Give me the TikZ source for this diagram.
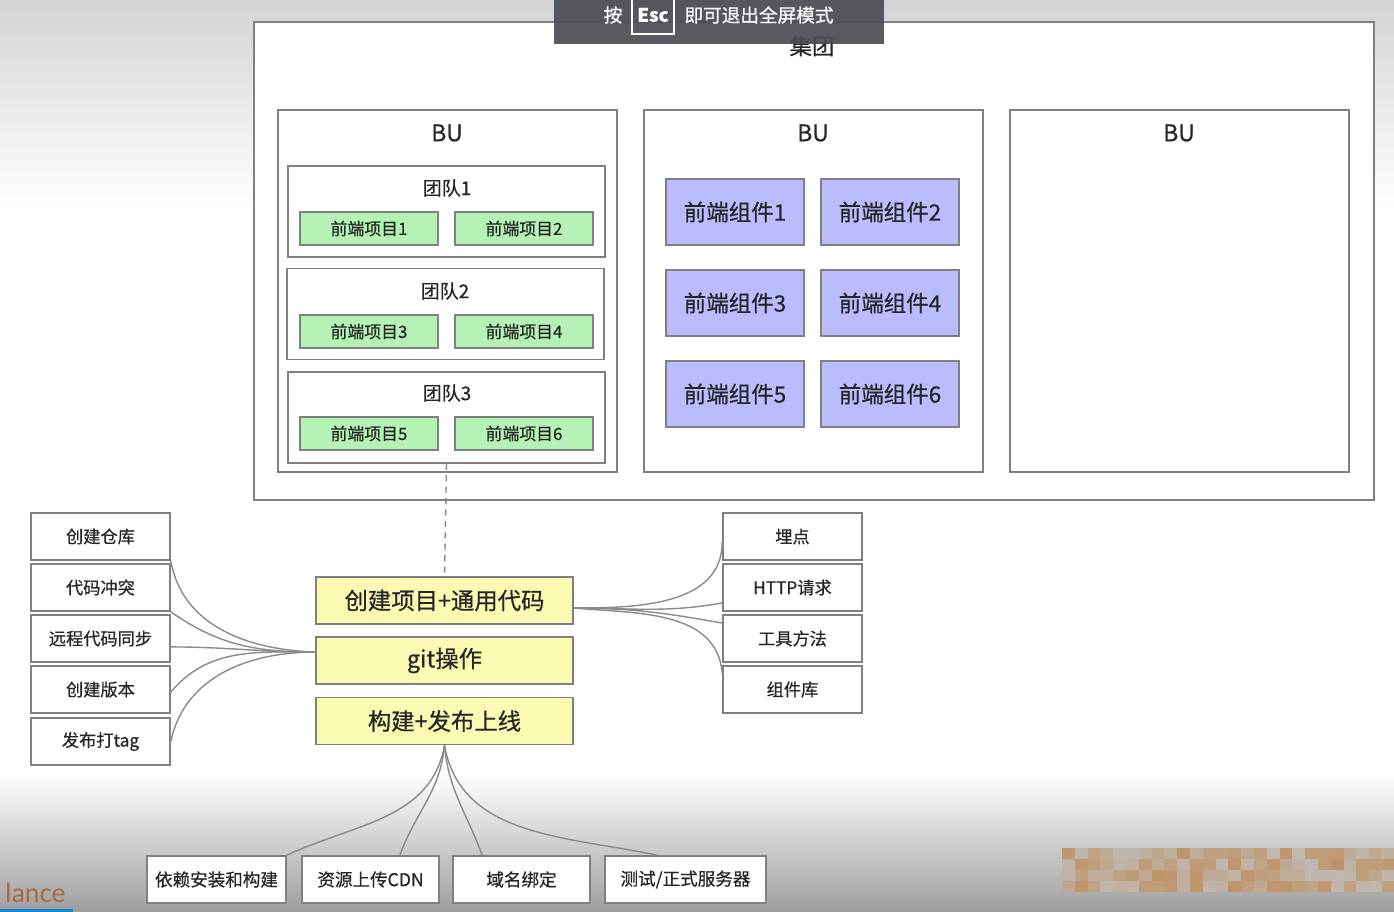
\documentclass[tikz,border=0pt]{standalone}
\usepackage{fontspec}
\setmainfont{Noto Sans CJK SC}[FakeBold=0.6]
\newfontfamily\latinfont{Carlito}
\definecolor{boxline}{HTML}{808080}
\definecolor{linkline}{HTML}{8A8A8A}
\definecolor{projgreen}{HTML}{B5F2B5}
\definecolor{comppurple}{HTML}{BBBBFF}
\definecolor{stageyellow}{HTML}{FAFAB2}
\definecolor{bannergray}{HTML}{4A4D52}
\definecolor{lanceorange}{HTML}{A86A45}
\newcommand{\fs}[1]{\fontsize{#1}{#1}\selectfont}

\begin{document}
\begin{tikzpicture}[x=0.02cm,y=-0.02cm,
    box/.style={draw=boxline,line width=0.9pt,inner sep=0pt,text=black!85},
    frame/.style={box,fill=white},
    proj/.style={box,fill=projgreen,minimum width=2.76cm,minimum height=0.66cm,font=\fs{9.6}},
    comp/.style={box,fill=comppurple,minimum width=2.76cm,minimum height=1.32cm,font=\fs{12.8}},
    stage/.style={box,fill=stageyellow,minimum width=5.14cm,minimum height=0.94cm,font=\fs{13.3}},
    item/.style={box,fill=white,minimum width=2.78cm,minimum height=0.94cm,font=\fs{9.8}},
    link/.style={draw=linkline,line width=0.8pt},
    title/.style={inner sep=0pt,text=black!85}]
    \useasboundingbox (0,0) rectangle (1394,912);
    % background of the screen
    \fill[white] (0,0) rectangle (1394,912);
    \shade[top color=black!17,bottom color=white] (0,0) rectangle (1394,210);
    \shade[top color=white,bottom color=black!38] (0,775) rectangle (1394,912);

    % group and business units
    \node[frame,minimum width=22.4cm,minimum height=9.56cm] (group) at (814,261) {};
    \node[title,font=\fs{12.8}] (grouplabel) at (812,46) {集团};
    \node[frame,minimum width=6.78cm,minimum height=7.24cm] (bu1) at (447.5,291) {};
    \node[frame,minimum width=6.78cm,minimum height=7.24cm] (bu2) at (813.5,291) {};
    \node[frame,minimum width=6.78cm,minimum height=7.24cm] (bu3) at (1179.5,291) {};
    \node[title,font=\fs{13}] (bulabel1) at (447,133) {BU};
    \node[title,font=\fs{13}] (bulabel2) at (813,133) {BU};
    \node[title,font=\fs{13}] (bulabel3) at (1179,133) {BU};

    % teams with their projects
    \node[frame,minimum width=6.34cm,minimum height=1.82cm] (team1) at (446.5,211.5) {};
    \node[frame,minimum width=6.34cm,minimum height=1.82cm] (team2) at (445.5,314) {};
    \node[frame,minimum width=6.34cm,minimum height=1.82cm] (team3) at (446.5,417.5) {};
    \node[title,font=\fs{10.8}] (teamlabel1) at (447,188) {团队1};
    \node[title,font=\fs{10.8}] (teamlabel2) at (445,291) {团队2};
    \node[title,font=\fs{10.8}] (teamlabel3) at (447,393) {团队3};
    \node[proj] (p1) at (369,228.5) {前端项目1};
    \node[proj] (p2) at (524,228.5) {前端项目2};
    \node[proj] (p3) at (369,331.5) {前端项目3};
    \node[proj] (p4) at (524,331.5) {前端项目4};
    \node[proj] (p5) at (369,433.5) {前端项目5};
    \node[proj] (p6) at (524,433.5) {前端项目6};

    % components
    \node[comp] (c1) at (735,212) {前端组件1};
    \node[comp] (c2) at (890,212) {前端组件2};
    \node[comp] (c3) at (735,303) {前端组件3};
    \node[comp] (c4) at (890,303) {前端组件4};
    \node[comp] (c5) at (735,394) {前端组件5};
    \node[comp] (c6) at (890,394) {前端组件6};

    % stages
    \node[stage] (create) at (444.5,600.5) {创建项目+通用代码};
    \node[stage] (git) at (444.5,660.5) {git操作};
    \node[stage] (deploy) at (444.5,721) {构建+发布上线};
    \draw[linkline,line width=0.8pt,dash pattern=on 3.5pt off 3pt] (team3.south) -- (create.north);

    % git side
    \node[item] (repo) at (100.5,536.5) {创建仓库};
    \node[item] (conflict) at (100.5,587.5) {代码冲突};
    \node[item] (sync) at (100.5,638.5) {远程代码同步};
    \node[item] (version) at (100.5,689.5) {创建版本};
    \node[item] (tag) at (100.5,741.5) {发布打tag};
    \draw[link] (repo.south east) to[out=-80,in=178] ([yshift=4.8pt]git.west);
    \draw[link] (conflict.south east) to[out=-35,in=180] ([yshift=4.8pt]git.west);
    \draw[link] ([yshift=-4.8pt]sync.east) to[out=0,in=180] ([yshift=4.8pt]git.west);
    \draw[link] ([yshift=-1.5pt]version.east) to[out=50,in=180] ([yshift=4.8pt]git.west);
    \draw[link] (tag.east) to[out=78,in=180] ([yshift=4.8pt]git.west);

    % common code side
    \node[item] (track) at (792.5,536.5) {埋点};
    \node[item] (http) at (792.5,587.5) {HTTP请求};
    \node[item] (tools) at (792.5,638.5) {工具方法};
    \node[item] (ui) at (792.5,689.5) {组件库};
    \draw[link] ([yshift=-4.3pt]create.east) to[out=0,in=-90] ([yshift=-3.1pt]track.west);
    \draw[link] ([yshift=-4.3pt]create.east) to[out=0,in=190] ([yshift=-8.8pt]http.west);
    \draw[link] ([yshift=-4.3pt]create.east) to[out=0,in=170] ([yshift=8.8pt]tools.west);
    \draw[link] ([yshift=-4.3pt]create.east) to[out=-5,in=95] ([yshift=9.4pt]ui.west);

    % build and release
    \node[item,font=\fs{10}] (install) at (216.5,879.5) {依赖安装和构建};
    \node[item,font=\fs{10},minimum width=2.74cm] (cdn) at (370.5,879.5) {资源上传CDN};
    \node[item,font=\fs{10},minimum width=2.74cm] (domain) at (521.5,879.5) {域名绑定};
    \node[item,font=\fs{10},minimum width=3.22cm] (server) at (685.5,879.5) {测试/正式服务器};
    \draw[link] (deploy.south) to[out=-100,in=25] (install.north east);
    \draw[link] (deploy.south) to[out=-95,in=70] ([xshift=16.7pt]cdn.north);
    \draw[link] (deploy.south) to[out=-85,in=110] ([xshift=-22.4pt]domain.north);
    \draw[link] (deploy.south) to[out=-80,in=168] ([xshift=-16.2pt]server.north);

    % screen overlay
    \fill[bannergray,fill opacity=0.92] (554,0) rectangle (884,44);
    \node[title,text=white,font=\fs{10.6}] (press) at (613,15) {按};
    \node[draw=white,line width=0.6pt,inner sep=0pt,minimum width=0.84cm,minimum height=0.76cm,
      text=white,font=\bfseries\fs{10.6}] (esc) at (653,15) {Esc};
    \node[title,text=white,font=\fs{10.6}] (exit) at (759,15) {即可退出全屏模式};
    \node[anchor=base east,inner sep=0pt,text=lanceorange,font=\latinfont\fs{16}] (lance) at (66,902) {lance};
    \fill[cyan!70!blue] (0,909) rectangle (73,912);
    \pgfmathsetseed{7}
    \foreach \i in {0,...,25}
      \foreach \j in {0,...,3} {
        \pgfmathsetmacro\mix{int(10+60*rnd)}
        \fill[brown!\mix!lightgray] (1062+12.8*\i,848+11*\j) rectangle ++(12.8,11);
      }
\end{tikzpicture}
\end{document}
